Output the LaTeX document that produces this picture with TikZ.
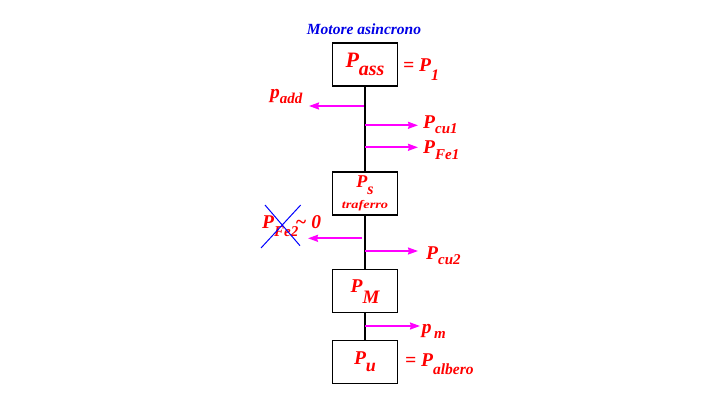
\documentclass[tikz,border=0pt]{standalone}
\usepackage{fontspec}
\setmainfont{Liberation Serif}
\usetikzlibrary{arrows.meta}
\definecolor{mag}{RGB}{255,0,255}
\definecolor{ttlblue}{RGB}{0,0,230}
\newcommand\fsz[1]{\fontsize{#1}{#1}\selectfont}
\newcommand\lsub[3]{\raisebox{-#1pt}{\fsz{#2}#3}}
\tikzset{
  boxnode/.style={draw=black, line width=1.3pt, minimum width=65pt, minimum height=43pt, inner sep=0pt, text=red, font=\bfseries\itshape, align=center},
  lbl/.style={text=red, font=\fsz{19.5}\bfseries\itshape, inner sep=0pt, anchor=base west},
  flow/.style={draw=mag, line width=1.8pt, -{Triangle[length=10pt,width=7pt,inset=1pt]}},
  stem/.style={draw=black, line width=1.3pt},
  cross/.style={draw=blue, line width=1pt}
}
\begin{document}
\begin{tikzpicture}[x=1pt,y=-1pt]
\useasboundingbox (0,0) rectangle (725,408);
% title
\node[text=ttlblue, font=\fsz{15.5}\bfseries\itshape, inner sep=0pt, anchor=base] (title) at (364,34) {Motore asincrono};
% boxes
\node[boxnode] (b1) at (365,64.5) {\fsz{22}P\lsub{8}{20}{ass}};
\node[boxnode] (b2) at (365,193.5) {{\fsz{18}P\lsub{7}{16}{s}}\\[5pt]{\scalebox{1.25}[1]{\fsz{11.5}traferro}}};
\node[boxnode] (b3) at (365,291.3) {\fsz{19.5}P\lsub{11}{19}{M}};
\node[boxnode] (b4) at (365,361.8) {\fsz{19.5}P\lsub{6.7}{18}{u}};
% stems
\draw[stem] (b1.south) -- (b2.north);
\draw[stem] (b2.south) -- (b3.north);
\draw[stem] (b3.south) -- (b4.north);
% labels
\node[lbl] (l1) at (403,71.7) {= P\lsub{9}{16}{1}};
\node[lbl] (ladd) at (270,98) {p\lsub{5}{15}{add}};
\node[lbl] (lcu1) at (423,128.3) {P\lsub{5}{15}{cu1}};
\node[lbl] (lfe1) at (423,153) {P\lsub{6}{15}{Fe1}};
\node[lbl] (lfe2) at (262,228.3) {P\lsub{8.4}{15}{Fe2}\kern-3pt\textasciitilde\ 0};
\node[lbl] (lcu2) at (426,259.3) {P\lsub{5}{15}{cu2}};
\node[lbl] (lm) at (421.7,333) {p\lsub{5.3}{15}{\,m}};
\node[lbl] (lalb) at (405,366.7) {= P\lsub{7.6}{15.5}{albero}};
% arrow ends
\coordinate (sadd) at (364,106);   \coordinate (eadd) at (309,106);
\coordinate (scu1) at (365,125.3); \coordinate (ecu1) at (418,125.3);
\coordinate (sfe1) at (365,147.3); \coordinate (efe1) at (418,147.3);
\coordinate (sfe2) at (362,238.3); \coordinate (efe2) at (308,238.3);
\coordinate (scu2) at (365,251);   \coordinate (ecu2) at (418,251);
\coordinate (sm) at (365,326);     \coordinate (em) at (420,326);
\draw[flow] (sadd) -- (eadd);
\draw[flow] (scu1) -- (ecu1);
\draw[flow] (sfe1) -- (efe1);
\draw[flow] (sfe2) -- (efe2);
\draw[flow] (scu2) -- (ecu2);
\draw[flow] (sm) -- (em);
% cross over P_Fe2
\coordinate (c1a) at (265,205); \coordinate (c1b) at (300,245.7);
\coordinate (c2a) at (300.7,205); \coordinate (c2b) at (261,248);
\draw[cross] (c1a) -- (c1b);
\draw[cross] (c2a) -- (c2b);
\end{tikzpicture}
\end{document}
